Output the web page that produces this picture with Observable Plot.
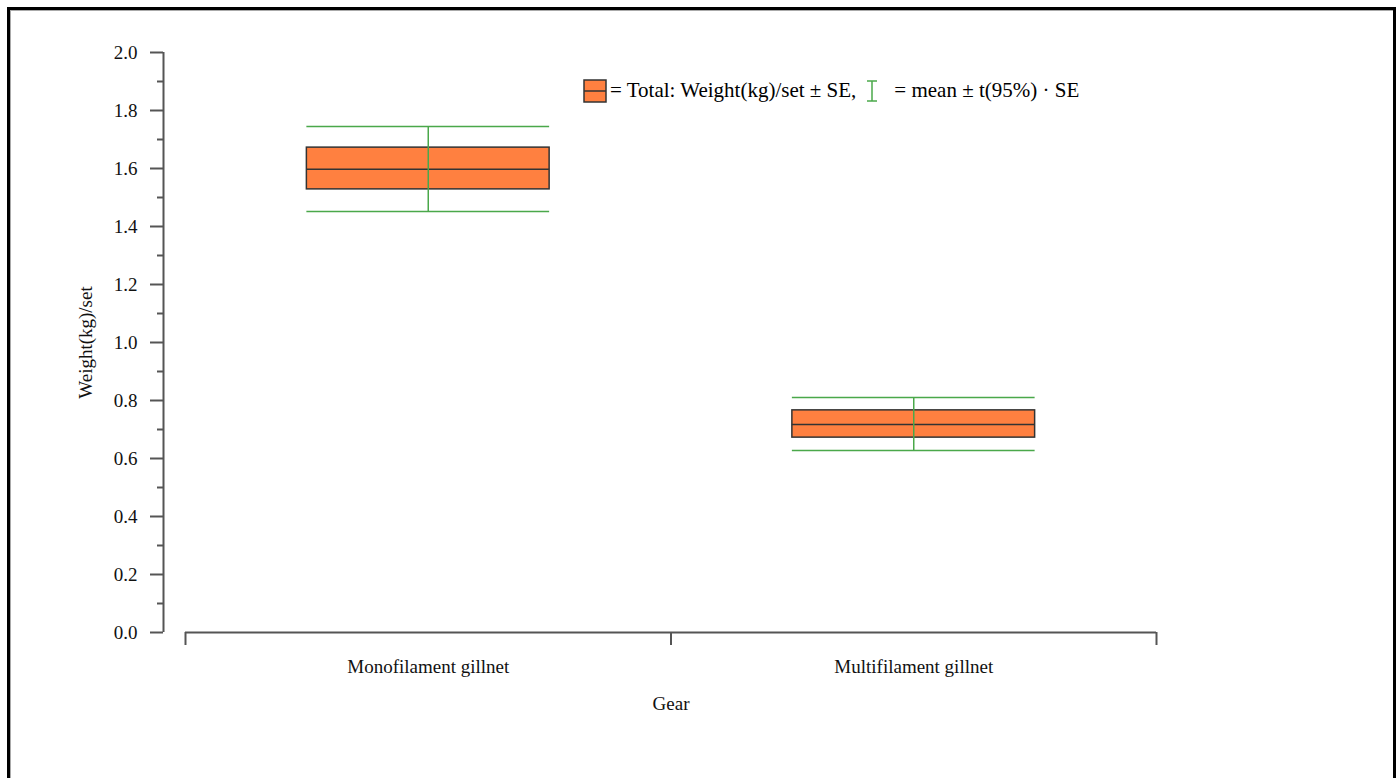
<!DOCTYPE html>
<html>
<head>
<meta charset="utf-8">
<script src="https://cdn.jsdelivr.net/npm/d3@7"></script>
<script src="https://cdn.jsdelivr.net/npm/@observablehq/plot@0.6"></script>
<style>
  html, body { margin: 0; padding: 0; background: #fff; overflow: hidden; }
  #wrap { position: relative; width: 1399px; height: 778px; }
  #border { position: absolute; left: 7px; top: 7px; width: 1383px; height: 800px;
            border: 3px solid #000; border-bottom: none; box-shadow: inset 1px 1px 0 #aaa; }
  #chart { position: absolute; left: 0; top: 0; }
  #legend { position: absolute; left: 583px; top: 78px; font-family: "Liberation Serif", serif;
            font-size: 21px; color: #000; display: flex; align-items: center; white-space: nowrap; }
  #legend svg { display: block; }
</style>
</head>
<body>
<div id="wrap">
  <div id="border"></div>
  <div id="chart"></div>
  <div id="legend">
    <svg width="24" height="24"><rect x="1" y="1" width="22" height="22" fill="#ff8040" stroke="#333" stroke-width="1.5"/><line x1="1" x2="23" y1="12" y2="12" stroke="#333" stroke-width="1.5"/></svg>
    <span style="margin-left:3px">= Total: Weight(kg)/set ± SE,</span>
    <svg width="12" height="22" style="margin-left:10px"><line x1="6" x2="6" y1="1" y2="21" stroke="#4aa84a" stroke-width="1.5"/><line x1="1" x2="11" y1="1" y2="1" stroke="#4aa84a" stroke-width="1.5"/><line x1="1" x2="11" y1="21" y2="21" stroke="#4aa84a" stroke-width="1.5"/></svg>
    <span style="margin-left:16px">= mean ± t(95%) · SE</span>
  </div>
</div>
<script>
// ---- data ----
const gears = ["Monofilament gillnet", "Multifilament gillnet"];
const means = [1.597, 0.717];
const seLow = [1.528, 0.672];
const seHigh = [1.672, 0.766];
const ciLow = [1.452, 0.628];
const ciHigh = [1.745, 0.810];
const majorTicks = [0.0, 0.2, 0.4, 0.6, 0.8, 1.0, 1.2, 1.4, 1.6, 1.8, 2.0];
const minorTicks = [0.1, 0.3, 0.5, 0.7, 0.9, 1.1, 1.3, 1.5, 1.7, 1.9];
const yDomain = [0, 2];
const gearBounds = [0, 1, 2];
const yLabel = "Weight(kg)/set";
const xLabel = "Gear";

const rows = gears.map((g, i) => ({
  gear: g, i, mean: means[i], lo: seLow[i], hi: seHigh[i], ciLo: ciLow[i], ciHi: ciHigh[i]
}));

const ORANGE = "#ff8040", GREEN = "#4aa84a", DARK = "#333", AXIS = "#555";
const halfW = 0.25;

const chart = Plot.plot({
  width: 1399,
  height: 778,
  marginLeft: 185,
  marginRight: 243,
  marginTop: 52,
  marginBottom: 146,
  style: { fontFamily: "Liberation Serif, serif", fontSize: "19px", color: "#111", background: "transparent" },
  x: { type: "linear", domain: [gearBounds[0], gearBounds[gearBounds.length - 1]], axis: null },
  y: { domain: yDomain, axis: null },
  marks: [
    // y axis
    Plot.ruleX([gearBounds[0]], { y1: yDomain[0], y2: yDomain[1], dx: -22, stroke: AXIS, strokeWidth: 2 }),
    Plot.axisY({ ticks: majorTicks, tickSize: 13, tickPadding: 13, dx: -22, label: null,
                 tickFormat: d => d.toFixed(1), stroke: AXIS, strokeWidth: 2, fill: "#111" }),
    Plot.axisY({ ticks: minorTicks, tickSize: 6, dx: -22, label: null, tickFormat: () => "",
                 stroke: AXIS, strokeWidth: 2 }),
    // x axis
    Plot.ruleY([yDomain[0]], { x1: gearBounds[0], x2: gearBounds[gearBounds.length - 1], stroke: AXIS, strokeWidth: 2 }),
    Plot.axisX({ ticks: gearBounds, tickSize: 13, label: null, tickFormat: () => "", stroke: AXIS, strokeWidth: 2 }),
    Plot.text(rows, { x: d => d.i + 0.5, y: () => yDomain[0], text: "gear", dy: 34, fill: "#111" }),
    // axis titles
    Plot.text([yLabel], { frameAnchor: "left", rotate: -90, dx: -100, textAnchor: "middle", lineAnchor: "middle", fill: "#111" }),
    Plot.text([xLabel], { frameAnchor: "bottom", dy: 71, lineAnchor: "middle", fill: "#111" }),
    // boxes
    Plot.rect(rows, { x1: d => d.i + 0.5 - halfW, x2: d => d.i + 0.5 + halfW, y1: "lo", y2: "hi",
                      fill: ORANGE, stroke: DARK, strokeWidth: 1.5 }),
    Plot.ruleY(rows, { y: "mean", x1: d => d.i + 0.5 - halfW, x2: d => d.i + 0.5 + halfW, stroke: DARK, strokeWidth: 1.5 }),
    // CI
    Plot.ruleY(rows, { y: "ciLo", x1: d => d.i + 0.5 - halfW, x2: d => d.i + 0.5 + halfW, stroke: GREEN, strokeWidth: 1.5 }),
    Plot.ruleY(rows, { y: "ciHi", x1: d => d.i + 0.5 - halfW, x2: d => d.i + 0.5 + halfW, stroke: GREEN, strokeWidth: 1.5 }),
    Plot.ruleX(rows, { x: d => d.i + 0.5, y1: "ciLo", y2: "ciHi", stroke: GREEN, strokeWidth: 1.5 })
  ]
});
document.getElementById("chart").appendChild(chart);
</script>
</body>
</html>
